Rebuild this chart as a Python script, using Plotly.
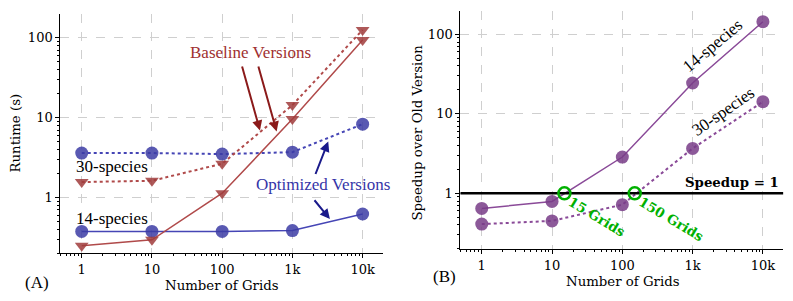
import plotly.graph_objects as go

# ---------------- data ----------------
grids = [1, 10, 100, 1000, 10000]
tick_labels = ["1", "10", "100", "1k", "10k"]

# Panel A: runtime (s)
opt_30 = [3.6, 3.6, 3.5, 3.7, 8.3]
opt_14 = [0.375, 0.375, 0.375, 0.385, 0.62]
base_30 = [1.56, 1.62, 2.65, 14.4, 126]
base_14 = [0.249, 0.294, 1.13, 9.6, 94]

# Panel B: speedup
speed_14 = [0.645, 0.79, 2.86, 24.4, 144]
speed_30 = [0.41, 0.45, 0.72, 3.67, 14.2]
cross_grids = [15, 150]
cross_speed = [1, 1]
cross_labels = ["15 Grids", "150 Grids"]
speedup_ref = 1

# ---------------- styling ----------------
# the page body has an 8px margin, so the figure is sized to fit the window
OFF = 8
W, H = 793 - 2 * OFF, 301 - 2 * OFF
RED_L, RED_M = "#b04a4a", "rgba(160,60,60,0.85)"
BLUE_L, BLUE_M = "#4545b5", "rgba(60,60,165,0.85)"
PUR_L, PUR_M = "#8a4a98", "rgba(120,60,135,0.85)"
GREEN = "#00b000"
SERIF = "Liberation Serif, Times New Roman, Times, serif"
DJ = "DejaVu Serif, Bitstream Vera Serif, serif"


def px(x):
    return (x - OFF) / W


def py(y):
    return 1 - (y - OFF) / H


fig = go.Figure()

# Panel A traces
fig.add_trace(go.Scatter(x=grids, y=opt_30, mode="lines+markers", xaxis="x", yaxis="y",
                         line=dict(color=BLUE_L, width=2, dash="dot"),
                         marker=dict(symbol="circle", size=13, color=BLUE_M)))
fig.add_trace(go.Scatter(x=grids, y=opt_14, mode="lines+markers", xaxis="x", yaxis="y",
                         line=dict(color=BLUE_L, width=1.5),
                         marker=dict(symbol="circle", size=13, color=BLUE_M)))
fig.add_trace(go.Scatter(x=grids, y=base_30, mode="lines+markers", xaxis="x", yaxis="y",
                         line=dict(color=RED_L, width=2, dash="dot"),
                         marker=dict(symbol="triangle-down", size=12, color=RED_M)))
fig.add_trace(go.Scatter(x=grids, y=base_14, mode="lines+markers", xaxis="x", yaxis="y",
                         line=dict(color=RED_L, width=1.5),
                         marker=dict(symbol="triangle-down", size=12, color=RED_M)))

# Panel B traces
fig.add_trace(go.Scatter(x=grids, y=speed_14, mode="lines+markers", xaxis="x2", yaxis="y2",
                         line=dict(color=PUR_L, width=1.5),
                         marker=dict(symbol="circle", size=13, color=PUR_M)))
fig.add_trace(go.Scatter(x=grids, y=speed_30, mode="lines+markers", xaxis="x2", yaxis="y2",
                         line=dict(color=PUR_L, width=2, dash="dot"),
                         marker=dict(symbol="circle", size=13, color=PUR_M)))

minor_vals = [m * 10 ** e for e in range(-1, 5) for m in range(2, 10)]

xcommon = dict(type="log", range=[-0.305, 4.29], tickvals=grids, ticktext=tick_labels,
               showline=True, linecolor="black", linewidth=1, ticks="outside", ticklen=4,
               tickcolor="black", tickfont=dict(family=DJ, size=13, color="black"),
               showgrid=True, gridcolor="#cfcfcf", griddash="dash", gridwidth=1,
               zeroline=False, mirror=False, automargin=False,
               minor=dict(tickvals=minor_vals, ticks="outside", ticklen=2, tickcolor="black",
                          showgrid=False))
ycommon = dict(type="log", range=[-0.70, 2.30], tickvals=[1, 10, 100], ticktext=["1", "10", "100"],
               showline=True, linecolor="black", linewidth=1, ticks="outside", ticklen=4,
               tickcolor="black", tickfont=dict(family=DJ, size=13, color="black"),
               showgrid=True, gridcolor="#cfcfcf", griddash="dash", gridwidth=1,
               zeroline=False, automargin=False,
               minor=dict(tickvals=minor_vals, ticks="outside", ticklen=2, tickcolor="black",
                          showgrid=False))

fig.update_layout(
    width=W, height=H, margin=dict(l=0, r=0, t=0, b=0),
    paper_bgcolor="white", plot_bgcolor="white", showlegend=False,
    font=dict(family=DJ),
    xaxis=dict(xcommon, domain=[px(60.3), px(383)], anchor="y"),
    yaxis=dict(ycommon, domain=[py(253.3), py(14)], anchor="x"),
    xaxis2=dict(xcommon, domain=[px(460.3), min(1.0, px(783.3))], anchor="y2"),
    yaxis2=dict(ycommon, domain=[py(249.3), py(10.7)], anchor="x2", range=[-0.704, 2.297]),
)

# Speedup = 1 reference line (across the full panel width)
fig.add_trace(go.Scatter(x=[10 ** -0.305, 10 ** 4.293], y=[speedup_ref, speedup_ref],
                         mode="lines", xaxis="x2", yaxis="y2", cliponaxis=False,
                         line=dict(color="black", width=2.5), hoverinfo="skip"))
# crossover points
fig.add_trace(go.Scatter(x=cross_grids, y=cross_speed, mode="markers", xaxis="x2", yaxis="y2",
                         marker=dict(symbol="circle-open", size=12, color=GREEN,
                                     line=dict(width=2.5, color=GREEN))))

ann = []


def text(x, y, t, size=17, family=SERIF, color="black", angle=0, xanchor="center", bold=False):
    if bold:
        t = "<b>" + t + "</b>"
    ann.append(dict(xref="paper", yref="paper", x=px(x), y=py(y), text=t, showarrow=False,
                    font=dict(family=family, size=size, color=color), textangle=angle,
                    xanchor=xanchor, yanchor="middle"))


# axis titles
text(222, 285.5, "Number of Grids", size=13.3, family=DJ)
text(622.5, 281, "Number of Grids", size=13.3, family=DJ)
text(15, 133.5, "Runtime (s)", size=13.3, family=DJ, angle=-90)
text(416.5, 133, "Speedup over Old Version", size=13.3, family=DJ, angle=-90)
text(36.5, 282.7, "(A)")
text(444, 276.7, "(B)")

# Panel A labels
text(250.5, 52.7, "Baseline Versions", color="#a03030")
text(323, 184, "Optimized Versions", color="#3535a8")
text(112.5, 166.7, "30-species")
text(112.5, 218.3, "14-species")

# Panel B labels
text(781, 182.7, "Speedup = 1", size=13.3, family=DJ, xanchor="right", bold=True)
text(596, 216.7, cross_labels[0], size=13.3, family=DJ, color=GREEN, angle=31, bold=True)
text(671.7, 219, cross_labels[1], size=13.3, family=DJ, color=GREEN, angle=31, bold=True)
text(713, 46, "14-species", angle=-40)
text(723, 111, "30-species", angle=-35)


# arrows (pixel positions converted to log-axis coordinates)
def to_log(xp, yp):
    return (xp - 81.7) / 70.25, (197.7 - yp) / 79.85


arrows = [
    ((241.7, 65), (260, 130.7), "#8b1a1a"),
    ((258, 65), (276.7, 131.7), "#8b1a1a"),
    ((315, 175.7), (328.3, 141.7), "#1a1a8b"),
    ((313.3, 199), (330, 219.3), "#1a1a8b"),
]
for tail, head, col in arrows:
    hx, hy = to_log(*head)
    tx, ty = to_log(*tail)
    ann.append(dict(xref="x", yref="y", axref="x", ayref="y", x=hx, y=hy, ax=tx, ay=ty,
                    text="", showarrow=True, arrowhead=2, arrowsize=1, arrowwidth=2,
                    arrowcolor=col))

fig.update_layout(annotations=ann)
fig.write_html("out.html")
